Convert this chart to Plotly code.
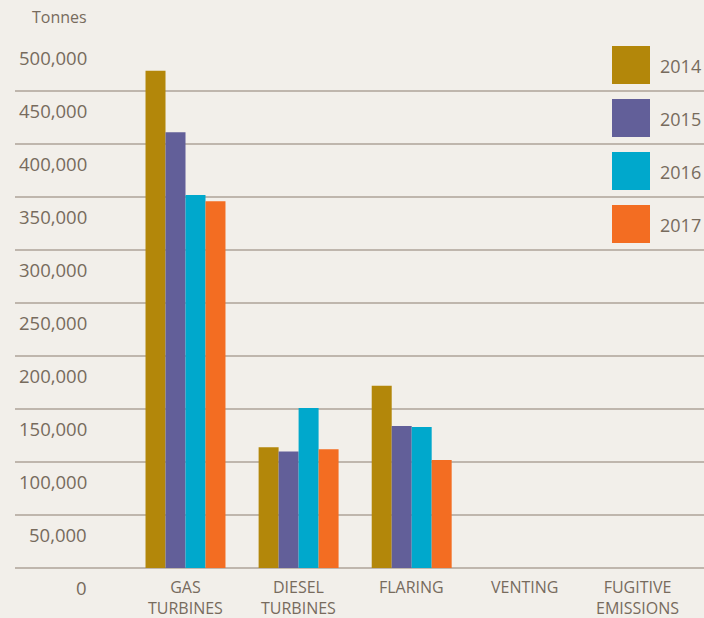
import plotly.graph_objects as go

# Emissions by source, tonnes
categories = ["GAS<br>TURBINES", "DIESEL<br>TURBINES", "FLARING", "VENTING", "FUGITIVE<br>EMISSIONS"]
years = ["2014", "2015", "2016", "2017"]
values_2014 = [469000, 114000, 172000, None, None]
values_2015 = [411000, 110000, 134000, None, None]
values_2016 = [352000, 151000, 133000, None, None]
values_2017 = [346000, 112000, 102000, None, None]
y_ticks = [0, 50000, 100000, 150000, 200000, 250000, 300000, 350000, 400000, 450000, 500000]

series = [values_2014, values_2015, values_2016, values_2017]
colors = ["#B3870A", "#625F99", "#00A8CC", "#F36D22"]

W, H = 704, 618
M_L, M_R, M_T, M_B = 15, 0, 38, 50
BG = "#F2EFEA"
TXT = "#776B5D"
GRID = "#BFB6AD"
FONT = "Open Sans"

fig = go.Figure()
for name, vals, col in zip(years, series, colors):
    fig.add_trace(go.Bar(x=categories, y=vals, name=name, marker_color=col,
                         marker_line_width=0, showlegend=False))

plot_w = W - M_L - M_R
plot_h = H - M_T - M_B


def px_x(px):
    return (px - M_L) / plot_w


def px_y(py):
    return (H - M_B - py) / plot_h


annotations = []
# y tick labels sit just below their gridlines, right-aligned
for v in y_ticks:
    annotations.append(dict(
        x=px_x(89), xref="paper", xanchor="right",
        y=v, yref="y", yanchor="middle", yshift=-19,
        text=f"{v:,}", showarrow=False,
        font=dict(family=FONT, size=18.5, color=TXT)))
annotations.append(dict(
    x=px_x(89), xref="paper", xanchor="right",
    y=px_y(17), yref="paper", yanchor="middle",
    text="Tonnes", showarrow=False,
    font=dict(family=FONT, size=16, color=TXT)))

# category labels under each group, first lines aligned
for cat in categories:
    annotations.append(dict(
        x=cat, xref="x", xanchor="center",
        y=px_y(574.5), yref="paper", yanchor="top", borderpad=0,
        text=cat, showarrow=False, align="center",
        font=dict(family=FONT, size=16, color=TXT)))

# legend: square swatches with year labels
shapes = []
for i, (name, col) in enumerate(zip(years, colors)):
    top = 46 + 53 * i
    shapes.append(dict(type="rect", xref="paper", yref="paper",
                       x0=px_x(612), x1=px_x(650), y0=px_y(top + 38), y1=px_y(top),
                       fillcolor=col, line=dict(width=0), layer="above"))
    annotations.append(dict(
        x=px_x(658), xref="paper", xanchor="left",
        y=px_y(top + 20), yref="paper", yanchor="middle",
        text=name, showarrow=False,
        font=dict(family=FONT, size=18, color=TXT)))

# x range chosen so gridlines span the full width
cat_px = 113.1
first_center = 185.5
x_lo = (M_L - first_center) / cat_px
x_hi = (W - M_R - first_center) / cat_px

fig.update_layout(
    width=W, height=H,
    margin=dict(l=M_L, r=M_R, t=M_T, b=M_B),
    paper_bgcolor=BG, plot_bgcolor=BG,
    barmode="group", bargap=0.293, bargroupgap=0,
    annotations=annotations, shapes=shapes,
    xaxis=dict(type="category", range=[x_lo, x_hi], showticklabels=False,
               showgrid=False, zeroline=False, showline=False, ticks=""),
    yaxis=dict(range=[0, 500000], tickvals=y_ticks, showticklabels=False,
               showgrid=True, gridcolor=GRID, gridwidth=1.5,
               zeroline=True, zerolinecolor=GRID, zerolinewidth=1.5,
               showline=False, ticks=""),
)

fig.write_html("out.html")
